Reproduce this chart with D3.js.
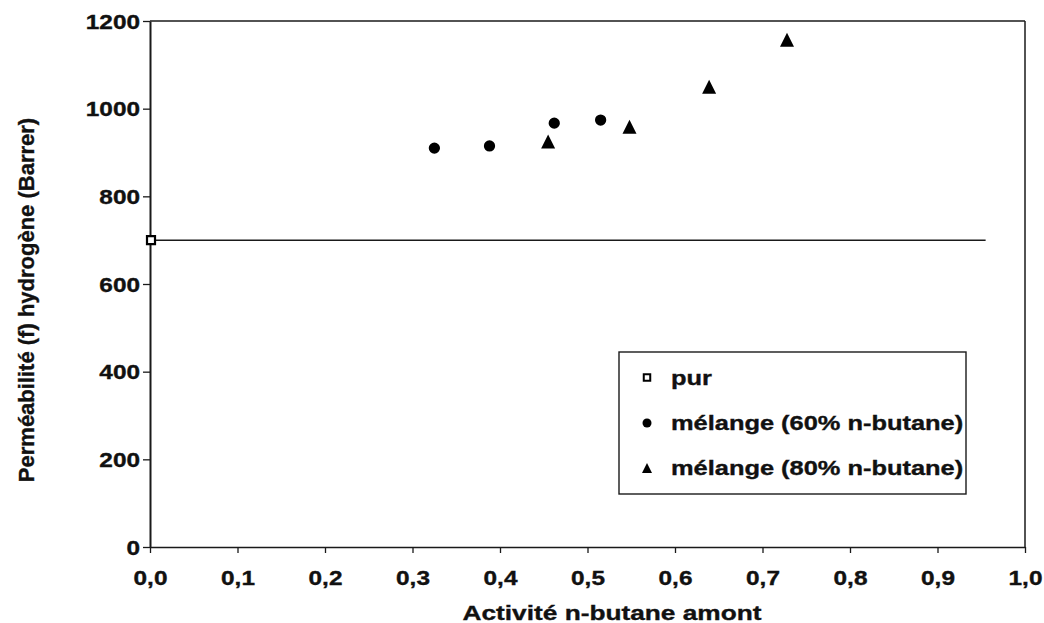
<!DOCTYPE html>
<html>
<head>
<meta charset="utf-8">
<script src="https://cdn.jsdelivr.net/npm/d3@7"></script>
<style>
  html, body { margin: 0; padding: 0; background: #fff; }
  svg { display: block; }
  text { font-family: "Liberation Sans", Arial, Helvetica, sans-serif; font-weight: bold; fill: #111; stroke: #111; stroke-width: 0.35px; }
</style>
</head>
<body>
<svg id="chart" width="1044" height="623"></svg>
<script>
// ---- data ----
const pureX = [0.0];
const pureY = [700];
const mix60X = [0.325, 0.388, 0.462, 0.515];
const mix60Y = [910, 915, 967, 974];
const mix80X = [0.455, 0.548, 0.639, 0.728];
const mix80Y = [925, 959, 1050, 1157];
const refLineY = [700];
const refLineX = [0.0, 0.955];
const xTicks = [0, 0.1, 0.2, 0.3, 0.4, 0.5, 0.6, 0.7, 0.8, 0.9, 1.0];
const xTickLabels = ["0,0", "0,1", "0,2", "0,3", "0,4", "0,5", "0,6", "0,7", "0,8", "0,9", "1,0"];
const yTicks = [0, 200, 400, 600, 800, 1000, 1200];
const yTickLabels = ["0", "200", "400", "600", "800", "1000", "1200"];
const legendLabels = ["pur", "mélange (60% n-butane)", "mélange (80% n-butane)"];
const xTitle = "Activité n-butane amont";
const yTitle = "Perméabilité (f) hydrogène (Barrer)";

// ---- layout ----
const svg = d3.select("#chart");
const x = d3.scaleLinear().domain([0, 1]).range([150, 1025]);
const y = d3.scaleLinear().domain([0, 1200]).range([547, 21]);
const SX = 1.25; // horizontal stretch of the scanned lettering
const ink = "#1a1a1a";

// custom triangle symbol (isoceles, width == height), centred on bbox
const triType = {
  draw(ctx, size) {
    const h = Math.sqrt(size);
    ctx.moveTo(0, -h / 2);
    ctx.lineTo(h / 2, h / 2);
    ctx.lineTo(-h / 2, h / 2);
    ctx.closePath();
  }
};

// frame (top + right)
svg.append("line").attr("x1", x(0)).attr("x2", x(1)).attr("y1", y(1200)).attr("y2", y(1200))
  .attr("stroke", ink).attr("stroke-width", 1.5);
svg.append("line").attr("x1", x(1)).attr("x2", x(1)).attr("y1", y(1200)).attr("y2", y(0))
  .attr("stroke", ink).attr("stroke-width", 1.5);

// x axis
const xAxis = svg.append("g").attr("transform", `translate(0,${y(0)})`)
  .call(d3.axisBottom(x).tickValues(xTicks).tickFormat((d, i) => xTickLabels[i]).tickSizeInner(6).tickSizeOuter(0));
xAxis.select(".domain").attr("stroke", ink).attr("stroke-width", 1.6);
xAxis.selectAll(".tick line").attr("stroke", ink).attr("stroke-width", 1.3);
xAxis.selectAll(".tick text")
  .attr("y", 38.5).attr("dy", 0)
  .attr("transform", `scale(${SX},1)`)
  .style("font-size", "19.5px");

// y axis
const yAxis = svg.append("g").attr("transform", `translate(${x(0)},0)`)
  .call(d3.axisLeft(y).tickValues(yTicks).tickFormat((d, i) => yTickLabels[i]).tickSizeInner(7).tickSizeOuter(0));
yAxis.select(".domain").attr("stroke", ink).attr("stroke-width", 2);
yAxis.selectAll(".tick line").attr("stroke", ink).attr("stroke-width", 1.3);
yAxis.selectAll(".tick text")
  .attr("x", -8).attr("y", 7).attr("dy", 0)
  .attr("transform", `scale(${SX},1)`)
  .style("font-size", "19.5px");

// reference horizontal line (pure value)
svg.append("line")
  .attr("x1", x(refLineX[0])).attr("x2", x(refLineX[1]))
  .attr("y1", y(refLineY[0])).attr("y2", y(refLineY[0]))
  .attr("stroke", ink).attr("stroke-width", 1.5);

// series
const pts = (xs, ys) => xs.map((v, i) => ({ x: v, y: ys[i] }));
svg.append("g").selectAll("path").data(pts(mix60X, mix60Y)).join("path")
  .attr("d", d3.symbol().type(d3.symbolCircle).size(100))
  .attr("transform", d => `translate(${x(d.x)},${y(d.y)})`)
  .attr("fill", "#000");
svg.append("g").selectAll("path").data(pts(mix80X, mix80Y)).join("path")
  .attr("d", d3.symbol().type(triType).size(196))
  .attr("transform", d => `translate(${x(d.x)},${y(d.y)})`)
  .attr("fill", "#000");
svg.append("g").selectAll("path").data(pts(pureX, pureY)).join("path")
  .attr("d", d3.symbol().type(d3.symbolSquare).size(64))
  .attr("transform", d => `translate(${x(d.x) + 1},${y(d.y)})`)
  .attr("fill", "#fff").attr("stroke", "#000").attr("stroke-width", 2.2);

// legend
const lg = svg.append("g");
lg.append("rect").attr("x", 619).attr("y", 352).attr("width", 347).attr("height", 142)
  .attr("fill", "#fff").attr("stroke", ink).attr("stroke-width", 1.4);
const legendSyms = [
  { type: d3.symbolSquare, size: 42, fill: "#fff", stroke: "#000" },
  { type: d3.symbolCircle, size: 64, fill: "#000", stroke: "none" },
  { type: triType, size: 100, fill: "#000", stroke: "none" }
];
const rowY = [377.5, 423, 468];
legendLabels.forEach((lab, i) => {
  const s = legendSyms[i];
  lg.append("path")
    .attr("d", d3.symbol().type(s.type).size(s.size))
    .attr("transform", `translate(647,${rowY[i]})`)
    .attr("fill", s.fill).attr("stroke", s.stroke).attr("stroke-width", 2);
  lg.append("g").attr("transform", `translate(671,${rowY[i] + 7}) scale(1.27,1)`)
    .append("text").text(lab).style("font-size", "20px");
});

// axis titles
svg.append("g").attr("transform", `translate(612,620) scale(${SX},1)`)
  .append("text").attr("text-anchor", "middle").style("font-size", "21px").text(xTitle);
svg.append("g").attr("transform", `translate(33.5,300) rotate(-90)`)
  .append("text").attr("text-anchor", "middle").style("font-size", "22px").text(yTitle);
</script>
</body>
</html>
